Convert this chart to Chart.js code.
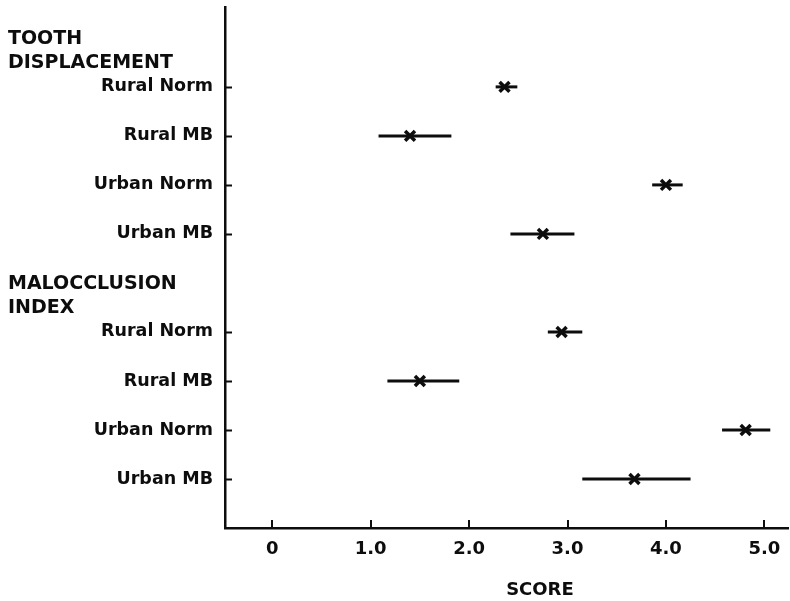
<!DOCTYPE html>
<html>
<head>
<meta charset="utf-8">
<script src="https://cdn.jsdelivr.net/npm/chart.js@4.4.1/dist/chart.umd.min.js"></script>
<style>
  html, body { margin:0; padding:0; background:#fff; }
  #wrap { width:790px; height:601px; }
</style>
</head>
<body>
<div id="wrap"><canvas id="chart" width="790" height="601"></canvas></div>
<script>
// rows (top to bottom), y index 4 is left empty for the second group heading
const rowLabels = ['Rural Norm','Rural MB','Urban Norm','Urban MB','Rural Norm','Rural MB','Urban Norm','Urban MB'];
const rowPos = [0,1,2,3,5,6,7,8];
const groupTitles = [['TOOTH','DISPLACEMENT'],['MALOCCLUSION','INDEX']];
const groupPos = [-1,4];
const means = [2.36,1.40,4.00,2.75,2.94,1.50,4.81,3.68];
const lows  = [2.27,1.08,3.86,2.42,2.80,1.17,4.57,3.15];
const highs = [2.49,1.82,4.17,3.07,3.15,1.90,5.06,4.25];
const xTicks = [0,1,2,3,4,5];
const xTickLabels = ['0','1.0','2.0','3.0','4.0','5.0'];
const xTitle = 'SCORE';

const INK = '#0d0d0d';
const FONT = '"DejaVu Sans", sans-serif';

const bars = rowPos.map((y, i) => ({
  type:'line',
  data:[{x:lows[i], y}, {x:highs[i], y}],
  borderColor:INK, borderWidth:3, pointRadius:0, fill:false, showLine:true
}));

const marks = {
  type:'scatter',
  data: rowPos.map((y, i) => ({x:means[i], y})),
  pointStyle:'crossRot', pointRadius:7, borderWidth:3.5,
  borderColor:INK, backgroundColor:INK
};

const noPad = s => { s.paddingTop = 0; s.paddingBottom = 0; s.paddingLeft = 0; s.paddingRight = 0; };

// inward ticks, group headings, axis title
const extras = {
  id:'extras',
  afterDraw(c){
    const ctx = c.ctx, xs = c.scales.x, ys = c.scales.y, a = c.chartArea;
    ctx.save();
    ctx.strokeStyle = INK; ctx.lineWidth = 2;
    rowPos.forEach(v => {
      const py = Math.round(ys.getPixelForValue(v)) + 0.5;
      ctx.beginPath(); ctx.moveTo(a.left, py); ctx.lineTo(a.left + 7, py); ctx.stroke();
    });
    xTicks.forEach(v => {
      const px = Math.round(xs.getPixelForValue(v));
      ctx.beginPath(); ctx.moveTo(px, a.bottom); ctx.lineTo(px, a.bottom - 8); ctx.stroke();
    });
    ctx.fillStyle = INK;
    ctx.font = 'bold 19px ' + FONT;
    ctx.textAlign = 'left'; ctx.textBaseline = 'alphabetic';
    groupTitles.forEach((lines, g) => {
      const y0 = ys.getPixelForValue(groupPos[g]) + 6;
      lines.forEach((t, k) => ctx.fillText(t, 8, y0 + k * 24));
    });
    ctx.font = 'bold 18px ' + FONT;
    ctx.textAlign = 'center'; ctx.textBaseline = 'middle';
    ctx.fillText(xTitle, xs.getPixelForValue(2.72), 590);
    ctx.restore();
  }
};

new Chart(document.getElementById('chart'), {
  data:{ datasets:[...bars, marks] },
  options:{
    responsive:false, animation:false,
    layout:{ autoPadding:false, padding:{ top:7, right:2, left:0, bottom:0 } },
    plugins:{ legend:{ display:false }, tooltip:{ enabled:false } },
    scales:{
      x:{
        type:'linear', min:-0.48, max:5.24,
        afterBuildTicks: s => { s.ticks = xTicks.map(v => ({value:v})); },
        afterFit: s => { s.height = 73; noPad(s); },
        grid:{ display:false, drawTicks:false },
        border:{ display:true, color:INK, width:2.5 },
        ticks:{ color:INK, padding:11, font:{ family:FONT, size:18, weight:'bold' },
                maxRotation:0, autoSkip:false,
                callback:(v, i) => xTickLabels[i] }
      },
      y:{
        type:'linear', reverse:true, min:-1.63, max:9.0,
        afterBuildTicks: s => { s.ticks = rowPos.map(v => ({value:v})); },
        afterFit: s => { s.width = 225; noPad(s); },
        grid:{ display:false, drawTicks:false },
        border:{ display:true, color:INK, width:2.5 },
        ticks:{ color:INK, padding:12, font:{ family:FONT, size:17.5, weight:'bold' },
                autoSkip:false,
                callback:(v, i) => rowLabels[i] }
      }
    }
  },
  plugins:[extras]
});
</script>
</body>
</html>
